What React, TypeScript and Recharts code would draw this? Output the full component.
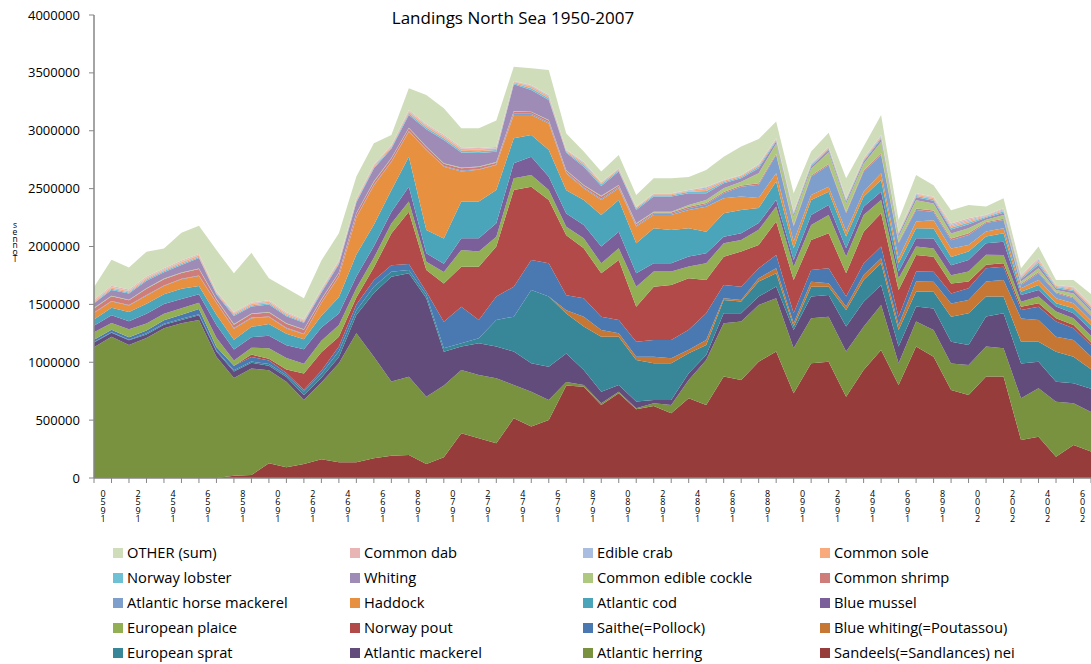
import React from 'react';
import { AreaChart, Area, XAxis, YAxis } from 'recharts';

// Categories
const years = [
  1950, 1951, 1952, 1953, 1954, 1955, 1956, 1957, 1958, 1959,
  1960, 1961, 1962, 1963, 1964, 1965, 1966, 1967, 1968, 1969,
  1970, 1971, 1972, 1973, 1974, 1975, 1976, 1977, 1978, 1979,
  1980, 1981, 1982, 1983, 1984, 1985, 1986, 1987, 1988, 1989,
  1990, 1991, 1992, 1993, 1994, 1995, 1996, 1997, 1998, 1999,
  2000, 2001, 2002, 2003, 2004, 2005, 2006, 2007,
];

const yTicks = [0, 500000, 1000000, 1500000, 2000000, 2500000, 3000000, 3500000, 4000000];

// Series values, in thousand tonnes (1950..2007)
const sandeels = [0, 0, 0, 0, 0, 0, 0, 0, 20, 26, 127, 92, 121, 161, 135, 135, 170, 193, 199, 121, 180, 386, 343, 300, 516, 444, 501, 800, 789, 631, 732, 593, 622, 559, 688, 631, 876, 847, 1005, 1092, 732, 991, 1005, 703, 933, 1106, 804, 1135, 1048, 760, 717, 876, 876, 328, 357, 184, 285, 230];
const herring = [1130, 1220, 1150, 1210, 1293, 1336, 1365, 1048, 845, 920, 803, 740, 553, 665, 856, 1115, 878, 640, 676, 582, 620, 547, 547, 561, 288, 302, 173, 30, 15, 14, 14, 9, 23, 72, 159, 389, 460, 504, 490, 461, 389, 389, 389, 389, 374, 389, 187, 216, 230, 230, 259, 259, 245, 360, 418, 475, 360, 340];
const mackerel = [40, 35, 40, 30, 30, 30, 40, 45, 55, 50, 40, 40, 43, 40, 55, 158, 550, 905, 893, 850, 290, 202, 274, 274, 288, 245, 288, 245, 129, 100, 58, 58, 29, 43, 58, 43, 87, 72, 72, 101, 158, 187, 187, 216, 216, 173, 144, 130, 187, 187, 173, 260, 302, 302, 230, 173, 173, 200];
const sprat = [5, 5, 5, 10, 10, 10, 10, 8, 10, 10, 15, 15, 30, 35, 50, 42, 55, 43, 30, 30, 30, 29, 43, 230, 302, 633, 605, 346, 375, 476, 417, 360, 317, 317, 173, 86, 115, 101, 130, 115, 29, 86, 72, 144, 187, 187, 144, 130, 144, 216, 274, 173, 144, 187, 173, 259, 230, 170];
const blueWhiting = [0, 0, 0, 0, 0, 0, 0, 0, 0, 0, 0, 0, 0, 0, 0, 0, 0, 0, 0, 0, 0, 0, 0, 0, 0, 0, 0, 29, 86, 58, 29, 28, 57, 43, 29, 43, 14, 14, 29, 43, 29, 43, 29, 29, 43, 43, 43, 86, 86, 115, 115, 130, 144, 202, 187, 130, 144, 110];
const saithe = [20, 20, 20, 25, 30, 35, 45, 30, 40, 40, 30, 20, 15, 25, 40, 50, 55, 57, 50, 27, 230, 316, 158, 202, 259, 260, 288, 129, 158, 115, 115, 130, 144, 158, 173, 231, 115, 115, 86, 115, 86, 101, 130, 86, 101, 101, 72, 86, 86, 86, 101, 115, 115, 72, 115, 130, 101, 100];
const norwayPout = [0, 0, 0, 0, 0, 0, 0, 0, 0, 20, 15, 30, 140, 160, 85, 60, 110, 274, 453, 187, 330, 346, 461, 432, 835, 633, 547, 519, 432, 374, 519, 302, 461, 475, 446, 287, 245, 303, 202, 288, 288, 259, 302, 202, 274, 288, 230, 144, 130, 86, 58, 29, 29, 29, 29, 29, 29, 20];
const plaice = [65, 60, 70, 60, 55, 55, 55, 80, 45, 60, 90, 100, 85, 100, 100, 80, 85, 86, 87, 72, 100, 144, 130, 86, 101, 101, 86, 72, 87, 87, 100, 173, 130, 116, 101, 145, 116, 100, 130, 130, 115, 130, 158, 144, 144, 115, 101, 72, 72, 72, 86, 86, 72, 43, 58, 58, 58, 60];
const blueMussel = [55, 65, 70, 85, 85, 80, 72, 110, 95, 90, 110, 110, 125, 115, 100, 100, 100, 100, 129, 72, 70, 101, 115, 115, 130, 158, 115, 115, 115, 144, 144, 115, 72, 72, 86, 86, 57, 58, 58, 58, 58, 86, 86, 72, 72, 72, 58, 72, 86, 86, 101, 101, 115, 58, 58, 43, 43, 50];
const cod = [55, 65, 80, 85, 85, 90, 72, 90, 85, 90, 100, 100, 86, 100, 140, 190, 185, 187, 259, 202, 220, 317, 317, 288, 216, 188, 230, 201, 216, 273, 274, 260, 302, 288, 245, 187, 202, 202, 130, 158, 101, 130, 115, 101, 86, 101, 72, 86, 86, 72, 72, 58, 72, 29, 43, 29, 43, 40];
const haddock = [55, 55, 55, 70, 70, 80, 86, 100, 95, 75, 60, 45, 43, 110, 180, 320, 340, 245, 216, 691, 620, 259, 274, 216, 201, 172, 230, 144, 101, 130, 101, 144, 115, 129, 158, 216, 129, 115, 86, 72, 58, 43, 43, 43, 43, 58, 43, 58, 72, 72, 58, 43, 43, 29, 43, 43, 43, 40];
const horseMackerel = [5, 5, 5, 5, 5, 5, 5, 5, 5, 5, 5, 5, 5, 5, 5, 5, 5, 5, 5, 5, 5, 10, 5, 5, 10, 10, 10, 10, 8, 10, 10, 10, 10, 10, 15, 20, 44, 86, 115, 158, 130, 158, 187, 158, 173, 158, 130, 101, 72, 72, 86, 72, 72, 29, 58, 43, 43, 40];
const shrimp = [35, 40, 40, 55, 55, 50, 55, 25, 30, 30, 35, 35, 35, 25, 25, 30, 25, 25, 25, 20, 20, 20, 20, 15, 20, 15, 15, 15, 15, 20, 15, 12, 12, 12, 12, 12, 10, 10, 14, 10, 10, 10, 10, 10, 10, 12, 10, 12, 12, 15, 15, 10, 10, 10, 10, 8, 10, 10];
const cockle = [5, 5, 5, 5, 5, 5, 5, 5, 5, 5, 5, 5, 5, 5, 5, 5, 5, 5, 5, 5, 5, 5, 5, 5, 5, 4, 5, 4, 6, 6, 4, 6, 7, 7, 16, 26, 33, 33, 86, 86, 72, 58, 101, 72, 58, 101, 43, 72, 60, 43, 43, 19, 33, 19, 33, 21, 33, 30];
const whiting = [40, 50, 55, 65, 55, 65, 90, 40, 70, 60, 65, 60, 55, 55, 70, 90, 110, 80, 110, 150, 200, 130, 115, 90, 230, 187, 173, 150, 158, 85, 115, 116, 130, 130, 101, 58, 43, 29, 43, 20, 20, 20, 20, 20, 20, 25, 20, 25, 25, 35, 35, 18, 20, 20, 30, 15, 20, 20];
const lobster = [5, 10, 8, 10, 10, 10, 10, 8, 10, 10, 10, 10, 8, 10, 10, 10, 10, 10, 12, 15, 15, 15, 15, 15, 10, 15, 15, 10, 15, 15, 12, 12, 12, 12, 12, 20, 12, 12, 15, 10, 10, 10, 10, 10, 10, 12, 10, 12, 12, 15, 15, 8, 12, 12, 20, 10, 12, 15];
const sole = [10, 10, 10, 10, 10, 12, 12, 10, 12, 12, 12, 12, 10, 12, 12, 12, 12, 12, 15, 15, 15, 15, 15, 12, 10, 15, 15, 10, 15, 10, 10, 8, 8, 8, 8, 20, 10, 10, 12, 8, 8, 8, 8, 8, 8, 10, 8, 10, 10, 12, 12, 7, 10, 10, 15, 8, 10, 10];
const crab = [5, 5, 5, 5, 5, 5, 5, 4, 5, 5, 5, 5, 5, 5, 5, 5, 5, 4, 5, 5, 5, 5, 5, 5, 5, 7, 8, 5, 8, 5, 4, 4, 5, 5, 5, 10, 4, 4, 5, 5, 5, 5, 5, 5, 5, 7, 5, 7, 6, 12, 12, 5, 8, 8, 11, 5, 8, 8];
const dab = [10, 10, 10, 10, 10, 10, 8, 6, 8, 8, 8, 8, 8, 8, 8, 8, 8, 5, 10, 10, 10, 10, 10, 8, 4, 7, 5, 4, 5, 5, 3, 4, 4, 4, 4, 7, 3, 3, 5, 5, 5, 5, 5, 5, 5, 6, 5, 6, 5, 12, 12, 5, 8, 8, 10, 5, 8, 7];
const other = [110, 225, 190, 215, 170, 240, 245, 356, 333, 430, 190, 207, 180, 244, 233, 189, 183, 88, 188, 250, 229, 164, 170, 229, 124, 144, 216, 138, 87, 89, 115, 101, 129, 129, 112, 144, 201, 245, 216, 144, 158, 101, 121, 173, 101, 173, 101, 158, 101, 115, 115, 72, 86, 58, 101, 43, 58, 90];

// Series names (stack order, bottom first) and values
const seriesNames = [
  'Sandeels(=Sandlances) nei', 'Atlantic herring', 'Atlantic mackerel', 'European sprat',
  'Blue whiting(=Poutassou)', 'Saithe(=Pollock)', 'Norway pout', 'European plaice',
  'Blue mussel', 'Atlantic cod', 'Haddock', 'Atlantic horse mackerel',
  'Common shrimp', 'Common edible cockle', 'Whiting', 'Norway lobster',
  'Common sole', 'Edible crab', 'Common dab', 'OTHER (sum)',
];
const seriesValues = [
  sandeels, herring, mackerel, sprat, blueWhiting, saithe, norwayPout, plaice,
  blueMussel, cod, haddock, horseMackerel, shrimp, cockle, whiting, lobster,
  sole, crab, dab, other,
];
const seriesColors = [
  '#963D3C', '#78923F', '#624C7C', '#378799', '#C67734', '#4A79B1', '#B14A48', '#92AF54',
  '#7A5F9B', '#4AA4BA', '#E69040', '#7E9ECC', '#CE7D7B', '#AFC880', '#9E8CB7', '#6EC0D5',
  '#F8AA7C', '#A8BDDF', '#E8B5B4', '#D0DDBA',
];

const data = years.map((yr, i) => {
  const row: Record<string, number> = { year: yr };
  seriesValues.forEach((vals, s) => {
    row['s' + s] = vals[i] * 1000;
  });
  return row;
});

const FONT = "'Open Sans', 'DejaVu Sans', sans-serif";
const AXIS_COLOR = '#868686';

const verticalStyle: React.CSSProperties = {
  writingMode: 'vertical-rl' as any,
  textOrientation: 'upright' as any,
};

// Year labels drawn as a vertical stack of upright glyphs (last digit on top), every second year
const YearTick = (props: any) => {
  const { x, payload, index } = props;
  if (index % 2 !== 0) return <g />;
  const label = String(payload.value).split('').reverse().join('');
  return (
    <text x={x + 9} y={487} fontSize={9} letterSpacing={-4.6} fontFamily={FONT} fill="#000" style={verticalStyle}>
      {label}
    </text>
  );
};

const legendOrder = [19, 18, 17, 16, 15, 14, 13, 12, 11, 10, 9, 8, 7, 6, 5, 4, 3, 2, 1, 0];
const legendColX = [113, 350, 583, 820];
const legendRowY = [553, 578, 603, 628, 653];

export default function App() {
  return (
    <div style={{ position: 'absolute', left: 0, top: 0, width: 1091, height: 664, background: '#fff', fontFamily: FONT, overflow: 'hidden' }}>
      <AreaChart width={1091} height={540} data={data} margin={{ top: 15, right: 0, bottom: 0, left: 0 }}>
        <XAxis
          dataKey="year"
          interval={0}
          height={62}
          tick={<YearTick />}
          tickSize={5}
          axisLine={{ stroke: AXIS_COLOR, strokeWidth: 1.5 }}
          tickLine={{ stroke: AXIS_COLOR }}
        />
        <YAxis
          width={94}
          domain={[0, 4000000]}
          ticks={yTicks}
          interval={0}
          tickFormatter={(v: number) => String(v)}
          tick={{ fontSize: 13, fill: '#000', fontFamily: FONT }}
          tickSize={5}
          tickMargin={9}
          axisLine={{ stroke: AXIS_COLOR, strokeWidth: 1.5 }}
          tickLine={{ stroke: AXIS_COLOR }}
        />
        {seriesNames.map((name, s) => (
          <Area
            key={name}
            type="linear"
            dataKey={'s' + s}
            name={name}
            stackId="1"
            stroke="none"
            fill={seriesColors[s]}
            fillOpacity={1}
            dot={false}
            activeDot={false}
            isAnimationActive={false}
          />
        ))}
      </AreaChart>
      <svg width={1091} height={664} style={{ position: 'absolute', left: 0, top: 0, pointerEvents: 'none' }}>
        <text x={513} y={24} textAnchor="middle" fontSize={17} fontFamily={FONT} fill="#000">
          Landings North Sea 1950-2007
        </text>
        <text x={15} y={219} fontSize={8.5} letterSpacing={-4.2} fontFamily={FONT} fill="#000" style={verticalStyle}>
          sennoT
        </text>
        {legendOrder.map((s, k) => {
          const col = k % 4;
          const row = Math.floor(k / 4);
          const lx = legendColX[col];
          const ly = legendRowY[row];
          return (
            <g key={s}>
              <rect x={lx} y={ly - 5} width={10} height={10} fill={seriesColors[s]} />
              <text x={lx + 14} y={ly + 5} fontSize={14.7} fontFamily={FONT} fill="#000">
                {seriesNames[s]}
              </text>
            </g>
          );
        })}
      </svg>
    </div>
  );
}
